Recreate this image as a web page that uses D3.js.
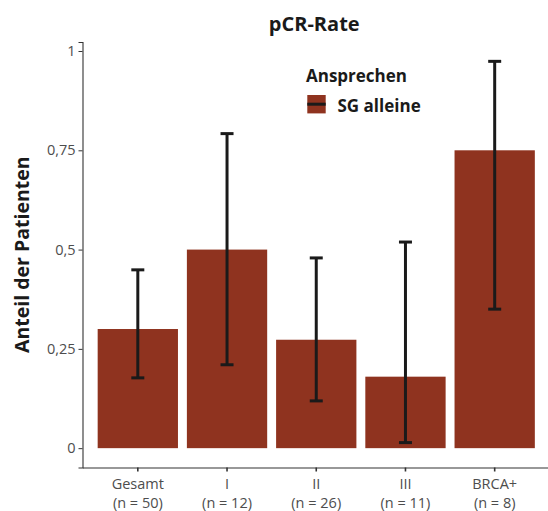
<!DOCTYPE html>
<html>
<head>
<meta charset="utf-8">
<script src="https://cdn.jsdelivr.net/npm/d3@7"></script>
<style>
  body { margin: 0; background: #fff; }
  text { font-family: "Open Sans", "Noto Sans", sans-serif; }
</style>
</head>
<body>
<div id="chart"></div>
<script>
// pCR rate per group, with 95% confidence intervals
const groups = ["Gesamt", "I", "II", "III", "BRCA+"]
const groupN = ["(n = 50)", "(n = 12)", "(n = 26)", "(n = 11)", "(n = 8)"]
const rate = [0.30, 0.50, 0.273, 0.18, 0.75]
const lower = [0.177, 0.21, 0.119, 0.014, 0.35]
const upper = [0.449, 0.792, 0.479, 0.519, 0.974]
const yTicks = [0, 0.25, 0.5, 0.75, 1]
const seriesName = "SG alleine"

const width = 548
const height = 511
const margin = { top: 42, right: -2, bottom: 43.5, left: 82.5 }
const barColor = "#8f331f"
const ink = "#1a1a1a"

const svg = d3.select("#chart").append("svg")
    .attr("width", width)
    .attr("height", height)

const x = d3.scaleBand()
    .domain(groups)
    .range([margin.left, width - margin.right])
    .paddingInner(0.1)
    .paddingOuter(0.17)

// ggplot-style 5% expansion of the data range 0..max(upper)
const yMax = d3.max(upper)
const y = d3.scaleLinear()
    .domain([-0.05 * yMax, yMax * 1.05])
    .range([height - margin.bottom, margin.top])

// bars
svg.append("g").selectAll("rect")
    .data(groups)
  .enter().append("rect")
    .attr("x", d => x(d))
    .attr("width", x.bandwidth())
    .attr("y", (d, i) => y(rate[i]))
    .attr("height", (d, i) => y(0) - y(rate[i]))
    .attr("fill", barColor)

// error bars
const capW = 13
const eb = svg.append("g")
    .attr("stroke", ink)
    .attr("stroke-width", 3)
groups.forEach(function(g, i) {
  const cx = x(g) + x.bandwidth() / 2
  eb.append("line").attr("x1", cx).attr("x2", cx).attr("y1", y(lower[i])).attr("y2", y(upper[i]))
  eb.append("line").attr("x1", cx - capW / 2).attr("x2", cx + capW / 2).attr("y1", y(lower[i])).attr("y2", y(lower[i]))
  eb.append("line").attr("x1", cx - capW / 2).attr("x2", cx + capW / 2).attr("y1", y(upper[i])).attr("y2", y(upper[i]))
})

// y axis
const yAxis = svg.append("g")
    .attr("transform", "translate(" + margin.left + ",0)")
    .call(d3.axisLeft(y).tickValues(yTicks).tickSize(4).tickPadding(3)
      .tickFormat(d => String(d).replace(".", ",")))
yAxis.select(".domain").attr("stroke", "#333").attr("stroke-width", 1.1)
yAxis.selectAll(".tick line").attr("stroke", "#333")
yAxis.selectAll(".tick text")
    .attr("fill", "#4d4d4d")
    .style("font-size", "14.5px")

// x axis
const xAxis = svg.append("g")
    .attr("transform", "translate(0," + (height - margin.bottom) + ")")
    .call(d3.axisBottom(x).tickSize(4).tickSizeOuter(0).tickFormat(""))
xAxis.select(".domain").attr("stroke", "#333").attr("stroke-width", 1.1)
xAxis.selectAll(".tick line").attr("stroke", "#333").attr("stroke-width", 1.6)
const xt = xAxis.selectAll(".tick").append("text")
    .attr("fill", "#4d4d4d")
    .attr("text-anchor", "middle")
    .style("font-size", "14.5px")
xt.append("tspan").attr("x", 0).attr("y", 21.5).text(d => d)
xt.append("tspan").attr("x", 0).attr("y", 40.5).text((d, i) => groupN[i])

// title
svg.append("text")
    .attr("x", (margin.left + width - margin.right) / 2 - 2)
    .attr("y", 30.5)
    .attr("text-anchor", "middle")
    .attr("font-weight", "bold")
    .attr("fill", ink)
    .style("font-size", "20px")
    .text("pCR-Rate")

// y label
svg.append("text")
    .attr("transform", "translate(28.5," + ((margin.top + height - margin.bottom) / 2) + ") rotate(-90)")
    .attr("text-anchor", "middle")
    .attr("font-weight", "bold")
    .attr("fill", ink)
    .style("font-size", "19.5px")
    .text("Anteil der Patienten")

// legend
const legend = svg.append("g").attr("transform", "translate(306,0)")
legend.append("text")
    .attr("x", 0).attr("y", 82)
    .attr("font-weight", "bold")
    .attr("fill", ink)
    .style("font-size", "17px")
    .text("Ansprechen")
legend.append("rect")
    .attr("x", 1.3).attr("y", 95).attr("width", 18.4).attr("height", 18.4)
    .attr("fill", barColor)
legend.append("line")
    .attr("x1", 1.3).attr("x2", 19.7).attr("y1", 104.2).attr("y2", 104.2)
    .attr("stroke", ink).attr("stroke-width", 3)
legend.append("text")
    .attr("x", 31.5).attr("y", 111.5)
    .attr("font-weight", "bold")
    .attr("fill", ink)
    .style("font-size", "17px")
    .text(seriesName)
</script>
</body>
</html>
